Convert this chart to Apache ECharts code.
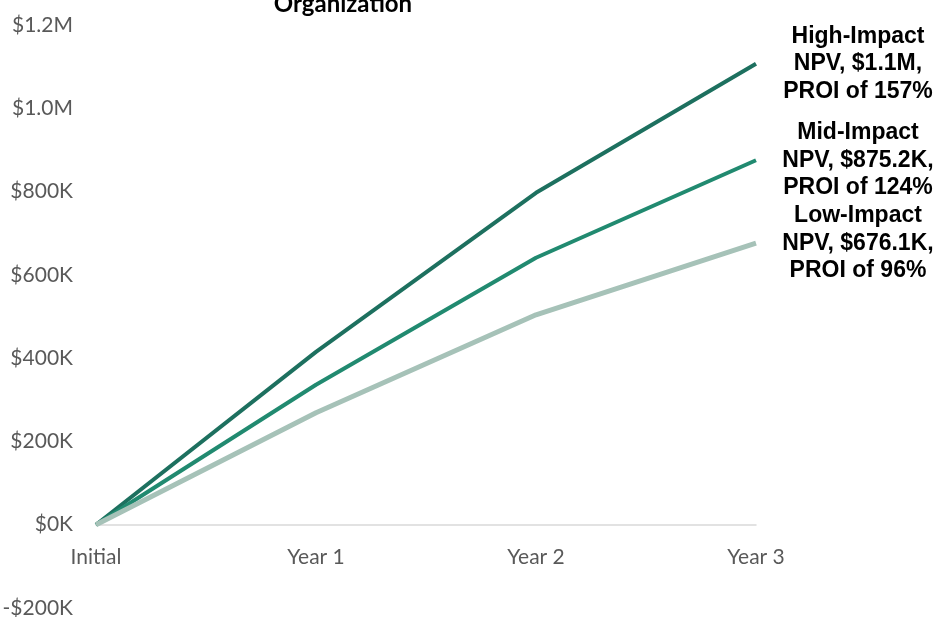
<!DOCTYPE html>
<html>
<head>
<meta charset="utf-8">
<script src="https://cdn.jsdelivr.net/npm/echarts@6/dist/echarts.min.js"></script>
<style>html,body{margin:0;padding:0;background:#fff;}#chart{width:941px;height:617px;}</style>
</head>
<body>
<div id="chart"></div>
<script>
const categories = ['Initial', 'Year 1', 'Year 2', 'Year 3'];
const highImpact = [0, 415000, 797000, 1107000];
const midImpact = [0, 336000, 641000, 875200];
const lowImpact = [0, 269000, 504000, 676100];
const highLabel = ['High-Impact', 'NPV, $1.1M,', 'PROI of 157%'];
const midLabel = ['Mid-Impact', 'NPV, $875.2K,', 'PROI of 124%'];
const lowLabel = ['Low-Impact', 'NPV, $676.1K,', 'PROI of 96%'];
const titleText = 'Organization';
const yMin = -200000, yMax = 1200000, yStep = 200000;

function fmtY(v) {
  const a = Math.abs(v);
  let s = a >= 1000000 ? '$' + (a / 1000000).toFixed(1) + 'M' : '$' + Math.round(a / 1000) + 'K';
  return (v < 0 ? '-' : '') + s;
}

const labelFont = 'Lato, "Open Sans", sans-serif';
function endLabel(lines) {
  return {
    show: true,
    formatter: () => lines.join('\n'),
    align: 'center',
    verticalAlign: 'middle',
    distance: 102,
    fontFamily: '"Liberation Sans", Arial, sans-serif',
    fontWeight: 'bold',
    fontSize: 23,
    lineHeight: 27.5,
    color: '#000000'
  };
}

const chart = echarts.init(document.getElementById('chart'), null, {renderer: 'canvas'});
chart.setOption({
  animation: false,
  backgroundColor: '#ffffff',
  grid: {left: 96, right: 185, top: 25, bottom: 9, containLabel: false, outerBoundsMode: 'none'},
  graphic: [{
    type: 'text',
    x: 343, y: 4,
    style: {
      text: titleText,
      textAlign: 'center',
      textVerticalAlign: 'middle',
      fontFamily: labelFont,
      fontWeight: 'bold',
      fontSize: 24,
      fill: '#000000'
    }
  }],
  xAxis: {
    type: 'category',
    data: categories,
    boundaryGap: false,
    offset: -83,
    axisLine: {onZero: false, lineStyle: {color: '#d9d9d9', width: 1.5}},
    axisTick: {show: false},
    axisLabel: {margin: 22, color: '#595959', fontSize: 21, fontFamily: labelFont},
    splitLine: {show: false}
  },
  yAxis: {
    type: 'value',
    min: yMin, max: yMax, interval: yStep,
    axisLine: {show: false},
    axisTick: {show: false},
    splitLine: {show: false},
    axisLabel: {margin: 23, color: '#595959', fontSize: 21, fontFamily: labelFont, formatter: fmtY}
  },
  series: [
    {name: 'High-Impact', type: 'line', data: highImpact, showSymbol: false, symbol: 'none',
     lineStyle: {color: '#1d705f', width: 4}, itemStyle: {color: '#1d705f'}, endLabel: endLabel(highLabel)},
    {name: 'Mid-Impact', type: 'line', data: midImpact, showSymbol: false, symbol: 'none',
     lineStyle: {color: '#218a70', width: 4}, itemStyle: {color: '#218a70'}, endLabel: endLabel(midLabel)},
    {name: 'Low-Impact', type: 'line', data: lowImpact, showSymbol: false, symbol: 'none',
     lineStyle: {color: '#a6c2b8', width: 5}, itemStyle: {color: '#a6c2b8'}, endLabel: endLabel(lowLabel)}
  ]
});
</script>
</body>
</html>
